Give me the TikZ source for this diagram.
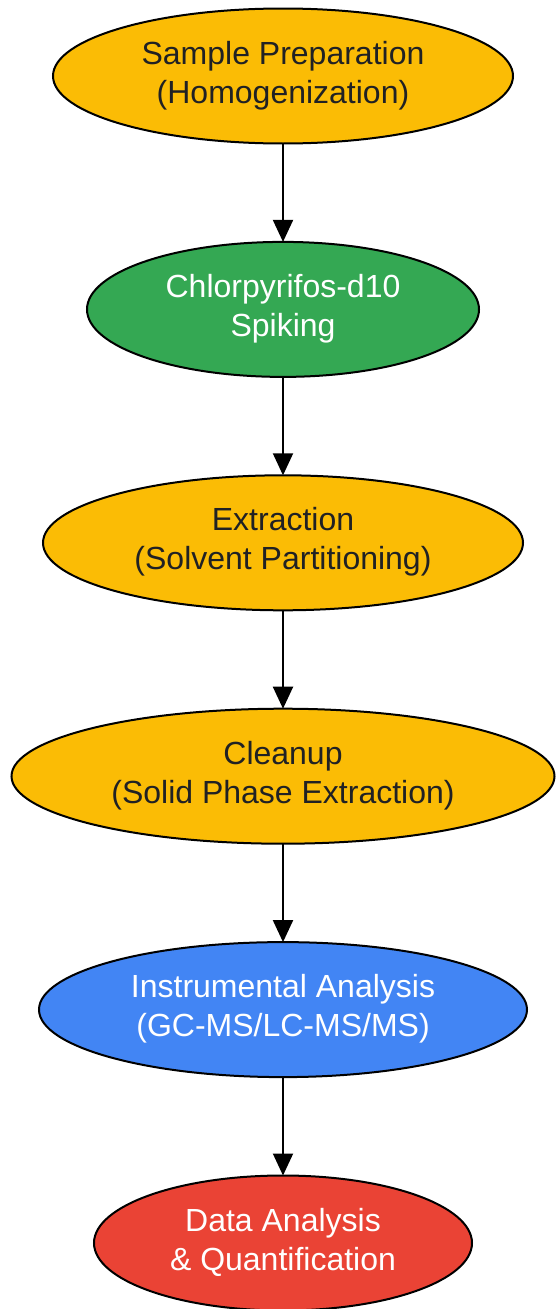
\documentclass[tikz,border=0pt]{standalone}
\usepackage{fontspec}
\setmainfont{Liberation Sans}
\usetikzlibrary{shapes.geometric,arrows.meta}
\usetikzlibrary{positioning}
\definecolor{gyellow}{HTML}{FBBC05}
\definecolor{ggreen}{HTML}{34A853}
\definecolor{gblue}{HTML}{4285F4}
\definecolor{gred}{HTML}{EA4335}
\definecolor{gtext}{HTML}{202124}
\tikzstyle{stage} = [ellipse, draw=black, line width=2pt, minimum height=135pt, inner sep=0pt, outer sep=0pt, align=center, font=\fontsize{32}{39}\selectfont, text depth=8pt]
\tikzstyle{prep} = [stage, fill=gyellow, text=gtext]
\tikzstyle{spike} = [stage, fill=ggreen, text=white]
\tikzstyle{instr} = [stage, fill=gblue, text=white]
\tikzstyle{result} = [stage, fill=gred, text=white]
\tikzstyle{flow} = [-{Triangle[length=22pt,width=20pt]}, line width=2pt]

\begin{document}
\begin{tikzpicture}[x=1pt, y=-1pt, node distance=98.4pt]
  \useasboundingbox (0,0) rectangle (555,1309);

  \node (sample) [prep, minimum width=460pt] at (283,76) {Sample Preparation\\(Homogenization)};
  \node (spiking) [spike, minimum width=392pt, below=of sample] {Chlorpyrifos-d10\\Spiking};
  \node (extract) [prep, minimum width=480pt, below=of spiking] {Extraction\\(Solvent Partitioning)};
  \node (cleanup) [prep, minimum width=543pt, below=of extract] {Cleanup\\(Solid Phase Extraction)};
  \node (analysis) [instr, minimum width=488pt, below=of cleanup] {Instrumental Analysis\\(GC-MS/LC-MS/MS)};
  \node (quant) [result, minimum width=378pt, below=of analysis] {Data Analysis\\\& Quantification};

  \draw [flow] (sample) -- (spiking);
  \draw [flow] (spiking) -- (extract);
  \draw [flow] (extract) -- (cleanup);
  \draw [flow] (cleanup) -- (analysis);
  \draw [flow] (analysis) -- (quant);
\end{tikzpicture}
\end{document}
